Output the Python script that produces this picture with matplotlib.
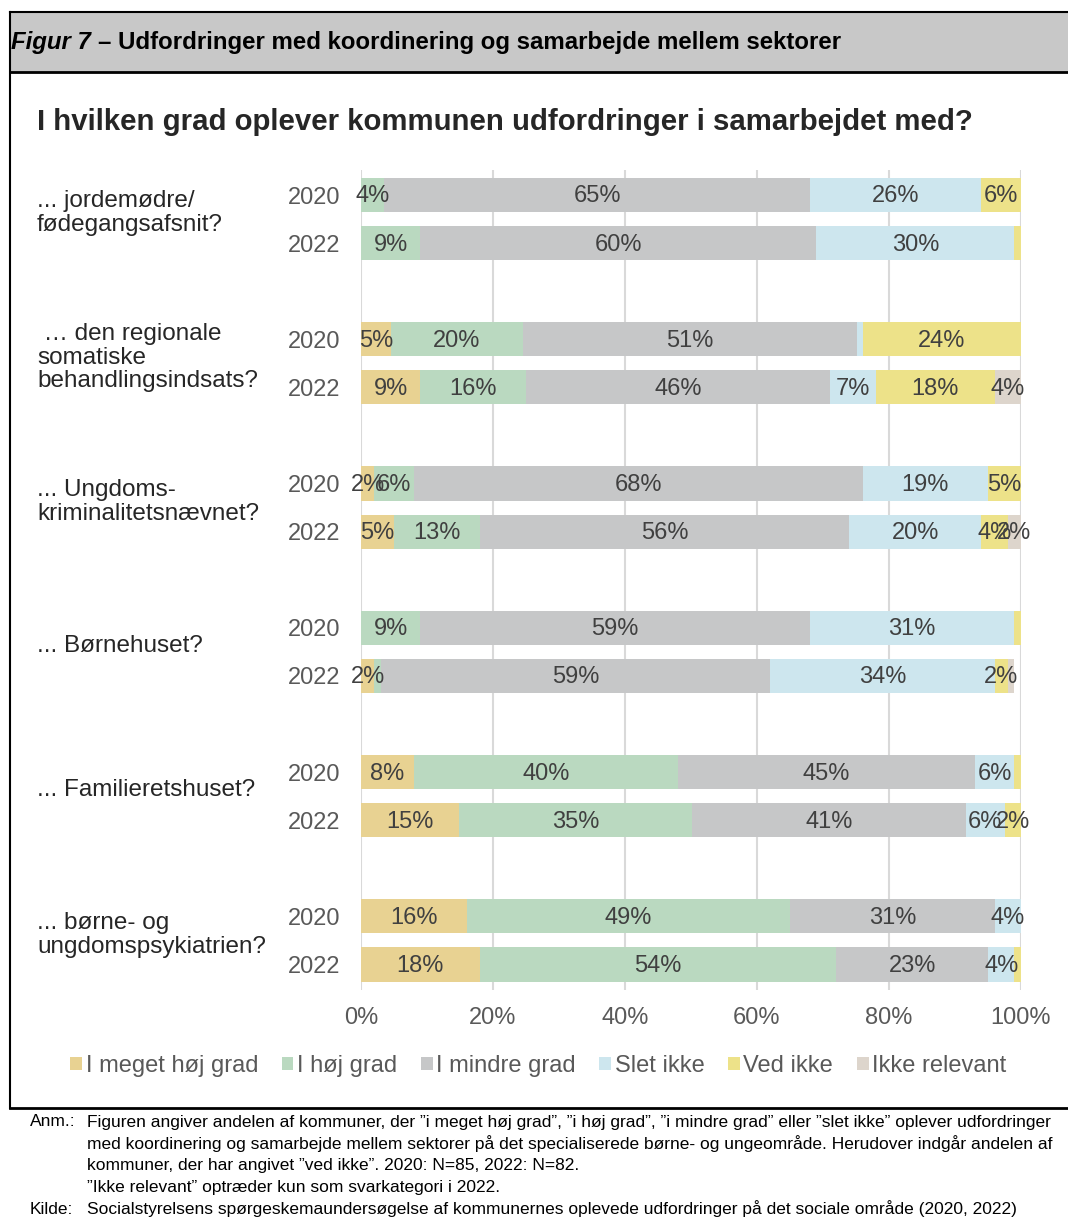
import numpy as np
import matplotlib
matplotlib.use("Agg")
import matplotlib.pyplot as plt
from matplotlib.patches import Rectangle
from matplotlib.lines import Line2D
from matplotlib.transforms import blended_transform_factory

plt.rcParams['font.family'] = ['Liberation Sans', 'DejaVu Sans']

# data (2020 then 2022 for each sector)
sectors = ["... jordemødre/\nfødegangsafsnit?",
           " … den regionale\nsomatiske\nbehandlingsindsats?",
           "... Ungdoms-\nkriminalitetsnævnet?",
           "... Børnehuset?",
           "... Familieretshuset?",
           "... børne- og\nungdomspsykiatrien?"]
years = ["2020", "2022"]
answers = ["I meget høj grad", "I høj grad", "I mindre grad",
           "Slet ikke", "Ved ikke", "Ikke relevant"]

meget_hoj = [0, 0, 4.6, 9, 2, 5, 0, 2, 8, 14.8, 16, 18]
hoj = [3.5, 9, 19.9, 16, 6, 13, 9, 1, 40, 35.4, 49, 54]
mindre = [64.6, 60, 50.6, 46, 68, 56, 59, 59, 45, 41.4, 31, 23]
slet = [25.8, 30, 0.9, 7, 19, 20, 31, 34, 6, 6.0, 4, 4]
ved = [6.1, 1, 24.0, 18, 5, 4, 1, 2, 1, 2.4, 0, 1]
ikke_rel = [0, 0, 0, 4, 0, 2, 0, 1, 0, 0, 0, 0]

colors = ["#E8D292", "#BAD9C0", "#C6C7C8", "#CDE6EE", "#EDE289", "#DDD5CC"]

W, H = 1068, 1217
fig = plt.figure(figsize=(W / 100, H / 100), dpi=100)

def fx(px):
    return px / W

def fy(py):
    return 1 - py / H

# frame / header band
fig.patches.append(Rectangle((fx(10), fy(72)), fx(1068) - fx(10), fy(12) - fy(72),
                             transform=fig.transFigure, facecolor="#C8C8C8",
                             edgecolor="none", zorder=0))
fig.lines.append(Line2D([fx(10), 1], [fy(12), fy(12)], transform=fig.transFigure,
                        color="black", lw=1.5))
fig.lines.append(Line2D([fx(10), 1], [fy(72), fy(72)], transform=fig.transFigure,
                        color="black", lw=2))
fig.lines.append(Line2D([fx(10), 1], [fy(1108), fy(1108)], transform=fig.transFigure,
                        color="black", lw=2))
fig.lines.append(Line2D([fx(10), fx(10)], [fy(12), fy(1108)], transform=fig.transFigure,
                        color="black", lw=1.5))

t1 = fig.text(fx(11), fy(43), "Figur 7 ", fontsize=17.3, fontweight="bold", style="italic",
              va="center", ha="left")
fig.canvas.draw()
x_end = t1.get_window_extent().x1 / W
fig.text(x_end, fy(43), "– Udfordringer med koordinering og samarbejde mellem sektorer",
         fontsize=17.3, fontweight="bold", va="center", ha="left")

fig.text(fx(37), fy(122), "I hvilken grad oplever kommunen udfordringer i samarbejdet med?",
         fontsize=21.2, fontweight="bold", color="#262626", va="center", ha="left")

# axes
ax = fig.add_axes([fx(361), fy(990), fx(1021) - fx(361), fy(170) - fy(990)])
ypos = []
ylabels = []
for i in range(len(sectors)):
    for j in range(2):
        ypos.append(3 * i + j)
        ylabels.append(years[j])
ypos = np.array(ypos)

series = [meget_hoj, hoj, mindre, slet, ved, ikke_rel]
left = np.zeros(len(ypos))
for k, vals in enumerate(series):
    vals = np.array(vals, dtype=float)
    ax.barh(ypos, vals, left=left, height=0.71, color=colors[k], label=answers[k],
            zorder=2)
    for y, l, v in zip(ypos, left, vals):
        if v >= 1.5:
            ax.text(l + v / 2, y + 0.03, "%d%%" % int(v + 0.5), ha="center", va="center",
                    fontsize=17, color="#404040", zorder=3)
    left += vals

ax.set_xlim(0, 100)
ax.set_ylim(16.53, -0.52)
ax.set_xticks(np.arange(0, 101, 20))
ax.set_xticklabels(["%d%%" % t for t in range(0, 101, 20)])
ax.set_yticks(ypos)
ax.set_yticklabels(ylabels)
ax.tick_params(axis="both", length=0, labelsize=17, labelcolor="#595959")
ax.tick_params(axis="x", pad=12)
ax.tick_params(axis="y", pad=15)
ax.grid(axis="x", color="#D9D9D9", lw=1.5, zorder=0)
for s in ax.spines.values():
    s.set_visible(False)

trans = blended_transform_factory(fig.transFigure, ax.transData)
for i, name in enumerate(sectors):
    ax.text(fx(37), 3 * i + 0.38, name, transform=trans, fontsize=17.5, color="#262626",
            ha="left", va="center", linespacing=1.1)

fig.legend(loc="center", bbox_to_anchor=(0.504, fy(1066)), ncol=6, frameon=False,
           fontsize=17, handlelength=0.5, handleheight=0.5, handletextpad=0.15,
           columnspacing=1.0, labelcolor="#595959")

# notes
note_fs = 12.5
fig.text(fx(30), fy(1122), "Anm.:", fontsize=note_fs, va="center", ha="left")
notes = ["Figuren angiver andelen af kommuner, der \u201di meget høj grad\u201d, \u201di høj grad\u201d, \u201di mindre grad\u201d eller \u201dslet ikke\u201d oplever udfordringer",
         "med koordinering og samarbejde mellem sektorer på det specialiserede børne- og ungeområde. Herudover indgår andelen af",
         "kommuner, der har angivet \u201dved ikke\u201d. 2020: N=85, 2022: N=82.",
         "\u201dIkke relevant\u201d optræder kun som svarkategori i 2022."]
for i, line in enumerate(notes):
    fig.text(fx(87), fy(1122 + 21.7 * i), line, fontsize=note_fs, va="center", ha="left")
fig.text(fx(30), fy(1209), "Kilde:", fontsize=note_fs, va="center", ha="left")
fig.text(fx(87), fy(1209),
         "Socialstyrelsens spørgeskemaundersøgelse af kommunernes oplevede udfordringer på det sociale område (2020, 2022)",
         fontsize=note_fs, va="center", ha="left")

fig.savefig("out.png", dpi=100)
